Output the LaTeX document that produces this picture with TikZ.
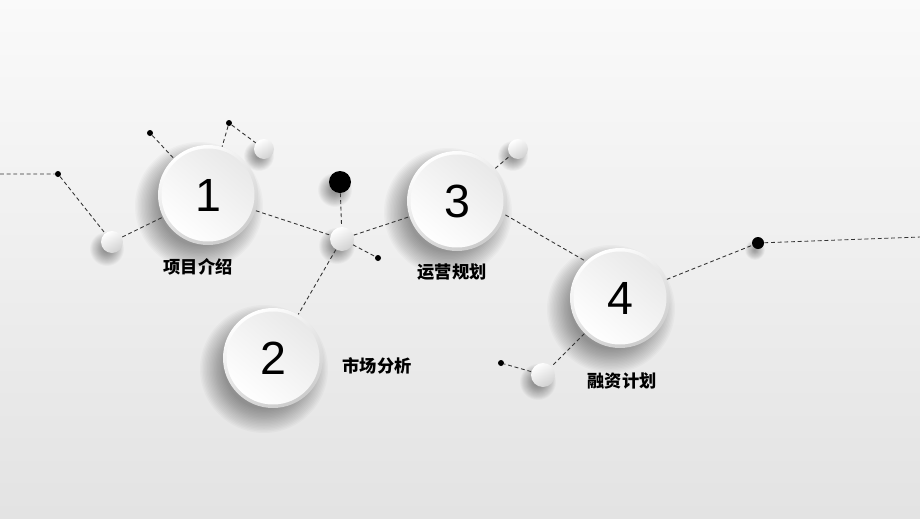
\documentclass[tikz,border=0pt]{standalone}
\usepackage{fontspec}
\setmainfont{Liberation Sans}
\newfontfamily\cjk{Noto Sans CJK SC}
\pgfdeclarelayer{bg}
\pgfdeclarelayer{shadow}
\pgfdeclarelayer{lines}
\pgfsetlayers{bg,shadow,lines,main}
\newcommand\mkshadow[5]{%
  \foreach \k in {0,...,17}{%
    \fill[black, opacity=0.024] ([shift={(#3,#4)}]#1.center) circle ({(#2+#5-\k*#5/17)*0.02cm});}}
\tikzset{
  big/.style={circle, minimum size=2cm, inner sep=0pt,
    top color=white, bottom color=black!20, shading angle=30,
    font=\fontsize{26.5}{26.5}\selectfont,
    path picture={\shade[top color=black!9, bottom color=white, shading angle=-40]
      (path picture bounding box.center) circle (0.93cm);}},
  small/.style={circle, minimum size=#1, inner sep=0pt,
    top color=white, bottom color=black!18, shading angle=30},
  bigdot/.style={circle, fill=black, minimum size=#1, inner sep=0pt},
  tinydot/.style={circle, fill=black, minimum size=0.12cm, inner sep=0pt},
  conn/.style={black!80, line width=0.5pt, dash pattern=on 2.2pt off 1.6pt},
  lbl/.style={font=\cjk\bfseries\fontsize{9.8}{11}\selectfont, text=black}
}
\begin{document}
\begin{tikzpicture}[x=0.02cm, y=-0.02cm]
\useasboundingbox (0,0) rectangle (920,518);
\begin{pgfonlayer}{bg}
  \shade[top color=black!2, bottom color=black!11] (0,0) rectangle (920,518);
\end{pgfonlayer}

% main circles
\node[big] (c1) at (208,195) {1};
\node[big] (c2) at (273,358) {2};
\node[big] (c3) at (457,201) {3};
\node[big] (c4) at (620,298) {4};

% small white circles
\node[small=0.44cm] (s1) at (112,242) {};
\node[small=0.40cm] (s2) at (264,149) {};
\node[small=0.48cm] (s3) at (342,239) {};
\node[small=0.40cm] (s4) at (518,149) {};
\node[small=0.48cm] (s5) at (543,375) {};

% black dots
\node[bigdot=0.44cm] (b0) at (340,182) {};
\node[bigdot=0.24cm] (b1) at (758,243) {};
\node[tinydot] (d1) at (58,174) {};
\node[tinydot] (d2) at (150,133) {};
\node[tinydot] (d3) at (229,123) {};
\node[tinydot] (d4) at (378,258) {};
\node[tinydot] (d5) at (501,363) {};
\coordinate (L) at (0,174);
\coordinate (R) at (920,237);

% labels
\node[lbl] (t1) at (198,267) {项目介绍};
\node[lbl] (t2) at (377,366) {市场分析};
\node[lbl] (t3) at (452,272) {运营规划};
\node[lbl] (t4) at (622,381) {融资计划};

\begin{pgfonlayer}{shadow}
  \mkshadow{c1}{40}{-9}{11}{24}
  \mkshadow{c2}{40}{-9}{11}{24}
  \mkshadow{c3}{40}{-9}{11}{24}
  \mkshadow{c4}{40}{-9}{11}{24}
  \mkshadow{s1}{4}{-5}{7}{13}
  \mkshadow{s2}{3}{-5}{7}{12}
  \mkshadow{s3}{5}{-5}{7}{13}
  \mkshadow{s4}{3}{-5}{7}{12}
  \mkshadow{s5}{5}{-5}{7}{13}
  \mkshadow{b0}{4}{-5}{8}{13}
  \mkshadow{b1}{0}{-3}{7}{10}
\end{pgfonlayer}

\begin{pgfonlayer}{lines}
  \draw[conn] (L) -- (d1) -- (s1);
  \draw[conn] (s1) -- (c1);
  \draw[conn] (d2) -- (c1);
  \draw[conn] (d3) -- (c1);
  \draw[conn] (d3) -- (s2);
  \draw[conn] (c1) -- (s3);
  \draw[conn] (b0) -- (s3);
  \draw[conn] (s3) -- (d4);
  \draw[conn] (s3) -- (c2);
  \draw[conn] (s3) -- (c3);
  \draw[conn] (c3) -- (s4);
  \draw[conn] (c3.-16) -- (c4.133);
  \draw[conn] (c4) -- (b1);
  \draw[conn] (b1) -- (R);
  \draw[conn] (c4) -- (s5);
  \draw[conn] (s5) -- (d5);
\end{pgfonlayer}
\end{tikzpicture}
\end{document}
